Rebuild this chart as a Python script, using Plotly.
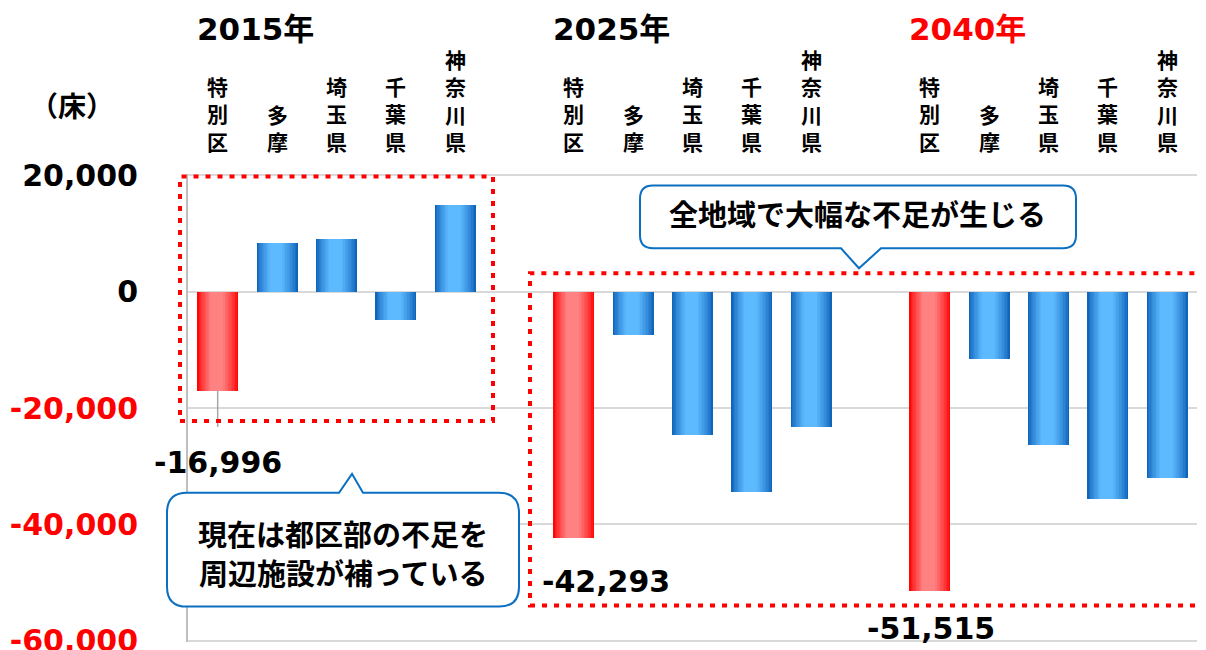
import plotly.graph_objects as go

# ---------------- data ----------------
years = ["2015年", "2025年", "2040年"]
regions = ["特別区", "多摩", "埼玉県", "千葉県", "神奈川県"]
values_2015 = [-16996, 8300, 9000, -4840, 15000]
values_2025 = [-42293, -7500, -24600, -34500, -23200]
values_2040 = [-51515, -11600, -26400, -35600, -32000]
y_ticks = [20000, 0, -20000, -40000, -60000]
unit_label = "（床）"
callout_top = "全地域で大幅な不足が生じる"
callout_bottom = ["現在は都区部の不足を", "周辺施設が補っている"]

series = [values_2015, values_2025, values_2040]

# ---------------- layout constants (page pixels) ----------------
OFF = 8                      # default body margin of the html page
W, H = 1206 - OFF, 650 - OFF  # figure size
YMIN, YMAX = -60000, 20000
PXU = (641 - 175) / (YMAX - YMIN)   # px per unit
EXT = 250                            # small range extension so end gridlines show
L, R = 188, 1197
T = 175 - EXT * PXU
B = 641 + EXT * PXU

def px(xp):
    return (xp - L) / (R - L)

def py(yp):
    return (B - yp) / (B - T)

JP = "Noto Sans CJK JP"
NUM = "DejaVu Sans, Noto Sans CJK JP"

# slot positions: 5 bars per group, one empty slot between groups
xs, ys, is_red = [], [], []
for g, vals in enumerate(series):
    for i, v in enumerate(vals):
        xs.append(g * 6 + i)
        ys.append(v)
        is_red.append(i == 0)

def lerp(c1, c2, t):
    return "rgb(%d,%d,%d)" % tuple(round(a + (b - a) * t) for a, b in zip(c1, c2))

blue_edge, blue_mid = (16, 100, 186), (94, 186, 255)
red_edge, red_mid = (255, 6, 6), (255, 130, 130)

fig = go.Figure()
BW = 0.69
pL, pR = -0.12 * BW, 0.06 * BW
N = 12
for k in range(N):
    t = k / N
    left = -BW / 2 + t * (pL + BW / 2)
    right = BW / 2 - t * (BW / 2 - pR)
    tc = min(1.0, (t / 0.85)) ** 0.8
    cols = [lerp(red_edge, red_mid, tc) if r else lerp(blue_edge, blue_mid, tc) for r in is_red]
    fig.add_trace(go.Bar(
        x=xs, y=ys, width=right - left, offset=left,
        marker=dict(color=cols, line=dict(width=0)),
        showlegend=False, hoverinfo="skip",
    ))

annotations = []
shapes = []

# year headers
year_colors = ["#000000", "#000000", "#FF0000"]
for g, yr in enumerate(years):
    annotations.append(dict(
        x=g * 6, xref="x", y=py(28), yref="paper", text=yr, showarrow=False,
        xanchor="left", yanchor="middle", xshift=-23,
        font=dict(family=NUM, size=31, color=year_colors[g], weight="bold"),
    ))

# vertical region labels (one character per line)
for g in range(len(years)):
    for i, name in enumerate(regions):
        annotations.append(dict(
            x=g * 6 + i, xref="x", y=py(158), yref="paper", text="<br>".join(name),
            showarrow=False, xanchor="center", yanchor="bottom", align="center",
            font=dict(family=JP, size=21, color="#000000", weight="bold"),
        ))

# unit label
annotations.append(dict(
    x=px(72), xref="paper", y=py(104), yref="paper", text=unit_label, showarrow=False,
    xanchor="center", yanchor="middle",
    font=dict(family=JP, size=28, color="#000000", weight="bold"),
))

# value labels for 特別区
label_shift = [(0, -71.5), (32, -44), (1, -37.5)]
for g, vals in enumerate(series):
    v = vals[0]
    dx, dy = label_shift[g]
    annotations.append(dict(
        x=g * 6, xref="x", y=v, yref="y", text=f"{v:,}", showarrow=False,
        xanchor="center", yanchor="middle", xshift=dx, yshift=dy,
        font=dict(family=NUM, size=30, color="#000000", weight="bold"),
    ))

# leader line for 2015 label
shapes.append(dict(type="line", xref="x", yref="y", x0=0, x1=0,
                   y0=values_2015[0], y1=values_2015[0] - 36.5 / PXU,
                   line=dict(color="#A6A6A6", width=1.5), layer="above"))

# red dotted frames
dash = "5px,7px"
shapes.append(dict(type="rect", xref="paper", yref="paper",
                   x0=px(180), x1=px(493), y0=py(421), y1=py(176),
                   line=dict(color="#FF0000", width=4, dash=dash), layer="above"))
shapes.append(dict(type="rect", xref="paper", yref="paper",
                   x0=px(530), x1=px(1212), y0=py(606), y1=py(273),
                   line=dict(color="#FF0000", width=4, dash=dash), layer="above"))

# callouts
def P(xp, yp):
    return f"{px(xp):.5f},{py(yp):.5f}"

def callout_down(x0, y0, x1, y1, r, b0, b1, tx, ty):
    return (f"M {P(x0 + r, y0)} L {P(x1 - r, y0)} Q {P(x1, y0)} {P(x1, y0 + r)} "
            f"L {P(x1, y1 - r)} Q {P(x1, y1)} {P(x1 - r, y1)} L {P(b1, y1)} L {P(tx, ty)} "
            f"L {P(b0, y1)} L {P(x0 + r, y1)} Q {P(x0, y1)} {P(x0, y1 - r)} "
            f"L {P(x0, y0 + r)} Q {P(x0, y0)} {P(x0 + r, y0)} Z")

def callout_up(x0, y0, x1, y1, r, b0, b1, tx, ty):
    return (f"M {P(x0 + r, y0)} L {P(b0, y0)} L {P(tx, ty)} L {P(b1, y0)} L {P(x1 - r, y0)} "
            f"Q {P(x1, y0)} {P(x1, y0 + r)} L {P(x1, y1 - r)} Q {P(x1, y1)} {P(x1 - r, y1)} "
            f"L {P(x0 + r, y1)} Q {P(x0, y1)} {P(x0, y1 - r)} "
            f"L {P(x0, y0 + r)} Q {P(x0, y0)} {P(x0 + r, y0)} Z")

shapes.append(dict(type="path", xref="paper", yref="paper",
                   path=callout_down(640, 185, 1076, 248, 13, 841, 881, 859, 268),
                   fillcolor="#FFFFFF", line=dict(color="#0B6FC2", width=2), layer="above"))
shapes.append(dict(type="path", xref="paper", yref="paper",
                   path=callout_up(167, 493, 519, 607, 20, 339, 363, 352, 474),
                   fillcolor="#FFFFFF", line=dict(color="#0B6FC2", width=2), layer="above"))

annotations.append(dict(
    x=px(857), xref="paper", y=py(213), yref="paper", text=callout_top, showarrow=False,
    xanchor="center", yanchor="middle",
    font=dict(family=JP, size=29, color="#000000", weight="bold"),
))
for line, cy in zip(callout_bottom, [533, 572]):
    annotations.append(dict(
        x=px(343), xref="paper", y=py(cy), yref="paper", text=line, showarrow=False,
        xanchor="center", yanchor="middle",
        font=dict(family=JP, size=29, color="#000000", weight="bold"),
    ))

tick_text = []
for v in y_ticks:
    s = f"{v:,}"
    tick_text.append(f'<span style="color:#FF0000">{s}</span>' if v < 0 else s)

fig.update_layout(
    width=W, height=H,
    margin=dict(l=L - OFF, r=W - (R - OFF), t=T - OFF, b=H - (B - OFF), pad=0,
                autoexpand=False),
    paper_bgcolor="#FFFFFF", plot_bgcolor="#FFFFFF",
    barmode="overlay",
    bargap=0,
    xaxis=dict(range=[-0.5, 16.5], showgrid=False, zeroline=False, showticklabels=False,
               showline=False, fixedrange=True, automargin=False),
    yaxis=dict(range=[YMIN - EXT, YMAX + EXT], tickvals=y_ticks, ticktext=tick_text,
               showgrid=True, gridcolor="#D9D9D9", gridwidth=2, automargin=False,
               zeroline=False, showline=True, linecolor="#BFBFBF", linewidth=2,
               ticks="", ticklabelstandoff=42, ticklabeloverflow="allow",
               tickfont=dict(family=NUM, size=30, color="#000000", weight="bold")),
    annotations=annotations,
    shapes=shapes,
    showlegend=False,
)

fig.write_html("out.html")
